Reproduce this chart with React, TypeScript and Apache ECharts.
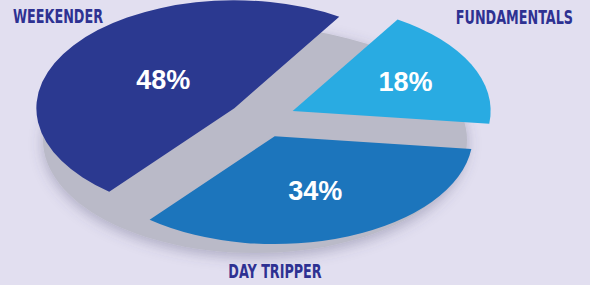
import React, { useEffect, useRef } from 'react';
import * as echarts from 'echarts';

// Slices listed counter-clockwise starting at the top boundary
const categories = ['WEEKENDER', 'DAY TRIPPER', 'FUNDAMENTALS'];
const values = [48, 34, 18];
const percentLabels = ['48%', '34%', '18%'];

const COLORS = ['#2b3990', '#1c75bc', '#29abe2'];
const START_DEG = 58;
const CX = 262;
const CY = 119;
const R = 198;
const SQUASH = 0.545;
const EXPLODE = 34;

const rad = (d: number) => (d * Math.PI) / 180;

export default function App() {
  const ref = useRef<HTMLDivElement>(null);
  useEffect(() => {
    document.body.style.margin = '0';
    if (!ref.current) return;
    const chart = echarts.init(ref.current, null, { renderer: 'svg' });
    const total = values.reduce((a, b) => a + b, 0);
    const labelFont = "'Liberation Sans Narrow', 'DejaVu Sans Condensed', 'Arial Narrow', 'Liberation Sans', sans-serif";
    const catText = (text: string, x: number, y: number, align: string) => ({
      type: 'text',
      z: 5,
      x,
      y,
      scaleX: 0.71,
      style: { text, fill: '#2e3192', fontSize: 20, fontWeight: 'bold', fontFamily: labelFont, align, verticalAlign: 'middle' },
    });
    chart.setOption({
      animation: false,
      backgroundColor: '#e2dff0',
      graphic: [
        {
          type: 'ellipse',
          z: 0,
          shape: { cx: 255, cy: 140, rx: 212, ry: 113 },
          style: {
            fill: '#babac8',
            shadowBlur: 14,
            shadowColor: 'rgba(70,70,110,0.35)',
            shadowOffsetY: 4,
          },
        },
        catText(categories[0], 13, 16, 'left'),
        catText(categories[2], 573, 17, 'right'),
        catText(categories[1], 275, 271, 'center'),
      ],
      series: [
        {
          type: 'custom',
          coordinateSystem: 'none',
          z: 3,
          data: values.map((v, i) => [i, v]),
          renderItem: (params: any, api: any) => {
            const i = params.dataIndex;
            let start = START_DEG;
            for (let j = 0; j < i; j++) start += (values[j] / total) * 360;
            const span = (api.value(1) / total) * 360;
            const mid = start + span / 2;
            const half = rad(span / 2);
            // centroid distance of a circular sector
            const k = (2 * Math.sin(half)) / (3 * half);
            const ox = CX + EXPLODE * Math.cos(rad(mid));
            const oy = CY - EXPLODE * Math.sin(rad(mid)) * SQUASH;
            return {
              type: 'group',
              children: [
                {
                  type: 'sector',
                  x: ox,
                  y: oy,
                  scaleY: SQUASH,
                  shape: {
                    cx: 0,
                    cy: 0,
                    r: R,
                    startAngle: -rad(start + span),
                    endAngle: -rad(start),
                    clockwise: true,
                  },
                  style: { fill: COLORS[i] },
                },
                {
                  type: 'text',
                  x: ox + R * k * Math.cos(rad(mid)),
                  y: oy - R * k * Math.sin(rad(mid)) * SQUASH,
                  style: {
                    text: percentLabels[i],
                    fill: '#ffffff',
                    fontSize: 27,
                    fontWeight: 'bold',
                    fontFamily: "'Liberation Sans', Arial, sans-serif",
                    align: 'center',
                    verticalAlign: 'middle',
                  },
                },
              ],
            };
          },
        },
      ],
    });
    return () => chart.dispose();
  }, []);
  return <div ref={ref} style={{ width: 590, height: 285 }} />;
}
